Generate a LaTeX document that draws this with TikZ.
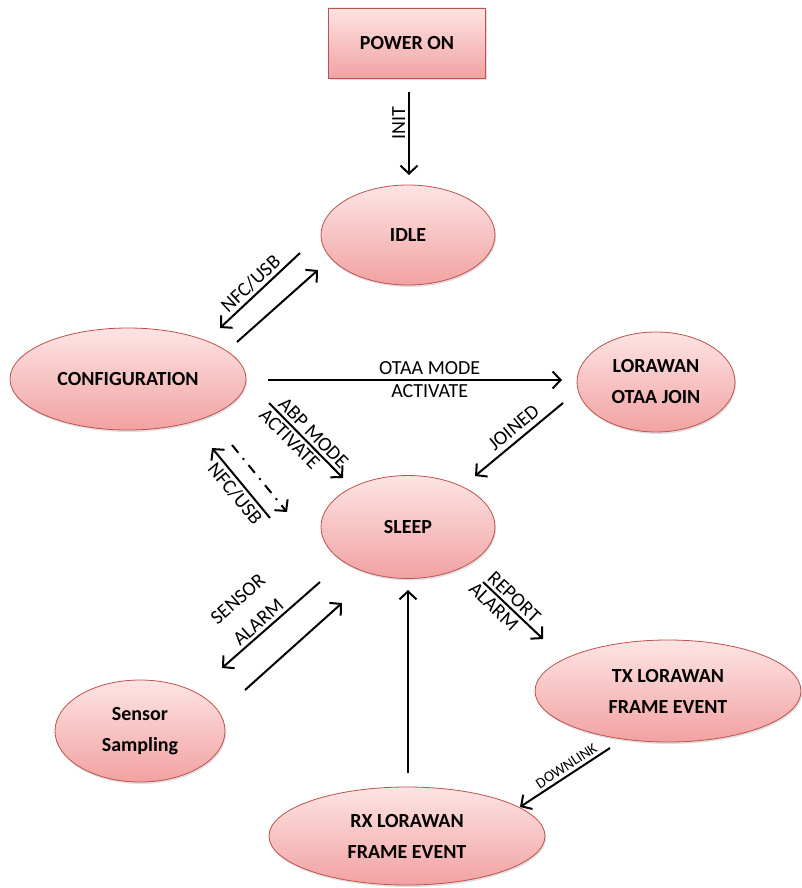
\documentclass[tikz,border=0pt]{standalone}
\usepackage{fontspec}
\setmainfont{Carlito}
\usetikzlibrary{arrows.meta,shapes.geometric,shadows}

\definecolor{stateTop}{HTML}{FDE4E4}
\definecolor{stateBot}{HTML}{F2A2A2}
\definecolor{stateLine}{HTML}{C0504D}

\begin{document}
\begin{tikzpicture}[
    x=1pt, y=-1pt,
    every node/.style={font=\fontsize{20}{31}\selectfont},
    state/.style={ellipse, draw=stateLine, line width=0.8pt, top color=stateTop, bottom color=stateBot, align=center, inner sep=0pt, font=\fontsize{20}{31}\selectfont\bfseries, drop shadow={opacity=0.25, shadow xshift=1pt, shadow yshift=-2pt}},
    boxstate/.style={state, rectangle},
    arrow/.style={-{Straight Barb[length=8pt,width=17pt]}, line width=2pt},
    lbl/.style={inner sep=3pt, sloped}
]
\useasboundingbox (0,0) rectangle (801,888);

\node[boxstate, minimum width=157pt, minimum height=70pt] (power) at (407,43) {POWER ON};
\node[state, minimum width=174pt, minimum height=100pt] (idle) at (408,235) {IDLE};
\node[state, minimum width=236pt, minimum height=102pt] (config) at (128,379) {CONFIGURATION};
\node[state, minimum width=158pt, minimum height=100pt] (otaa) at (656,382) {LORAWAN\\OTAA JOIN};
\node[state, minimum width=174pt, minimum height=103pt] (sleep) at (408,527) {SLEEP};
\node[state, minimum width=170pt, minimum height=102pt] (sensor) at (140,731) {Sensor\\Sampling};
\node[state, minimum width=266pt, minimum height=102pt] (tx) at (668,691) {TX LORAWAN\\FRAME EVENT};
\node[state, minimum width=276pt, minimum height=98pt] (rx) at (407,836) {RX LORAWAN\\FRAME EVENT};

% power on -> idle
\draw[arrow] ([shift={(2,49)}]power.center) -- node[pos=0.37, rotate=90, anchor=south, inner sep=3pt] {INIT} ([shift={(1,-60)}]idle.center);

% idle <-> configuration
\draw[arrow] ([shift={(-108,18)}]idle.center) -- node[lbl, pos=0.52, above] {NFC/USB} ([shift={(92,-51)}]config.center);
\draw[arrow] ([shift={(109,-37)}]config.center) -- ([shift={(-90,35)}]idle.center);

% configuration -> otaa join / sleep
\draw[arrow] ([shift={(140,1)}]config.center) -- node[pos=0.55, above, inner sep=4pt] {OTAA MODE} node[pos=0.55, below, inner sep=4pt] {ACTIVATE} ([shift={(-94,-2)}]otaa.center);
\draw[arrow] ([shift={(141,24)}]config.center) -- node[lbl, pos=0.5, above] {ABP MODE} node[lbl, pos=0.38, below] {ACTIVATE} ([shift={(-65,-49)}]sleep.center);
\draw[arrow] ([shift={(-93,21)}]otaa.center) -- node[lbl, pos=0.47, above, inner sep=5pt] {JOINED} ([shift={(67,-51)}]sleep.center);

% sleep <-> configuration
\draw[arrow] ([shift={(-138,-9)}]sleep.center) -- node[lbl, pos=0.45, below] {NFC/USB} ([shift={(84,69)}]config.center);
\draw[arrow, dash pattern=on 10pt off 7pt on 2pt off 7pt] ([shift={(104,66)}]config.center) -- ([shift={(-121,-15)}]sleep.center);

% sleep <-> sensor sampling
\draw[arrow] ([shift={(-88,55)}]sleep.center) -- node[lbl, pos=0.56, above, align=center] {SENSOR\\ALARM} ([shift={(82,-63)}]sensor.center);
\draw[arrow] ([shift={(105,-41)}]sensor.center) -- ([shift={(-66,76)}]sleep.center);

% sleep -> tx -> rx -> sleep
\draw[arrow] ([shift={(75,55)}]sleep.center) -- node[lbl, pos=0.4, above] {REPORT} node[lbl, pos=0.3, below] {ALARM} ([shift={(-125,-52)}]tx.center);
\draw[arrow] ([shift={(-58,57)}]tx.center) -- node[lbl, pos=0.43, above, font=\fontsize{15}{17}\selectfont] {DOWNLINK} ([shift={(113,-29)}]rx.center);
\draw[arrow] ([shift={(1,-63)}]rx.center) -- ([shift={(0,63)}]sleep.center);
\end{tikzpicture}
\end{document}
